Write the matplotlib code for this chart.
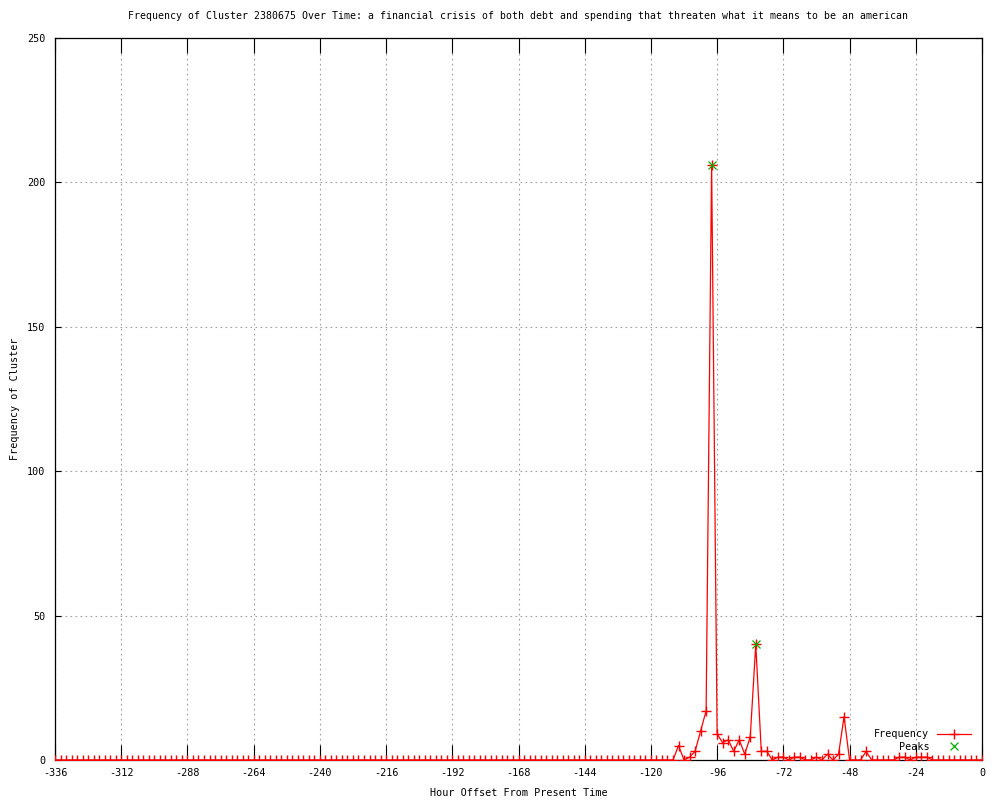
import numpy as np
import matplotlib
matplotlib.use('Agg')
import matplotlib.pyplot as plt

plt.rcParams['font.family'] = ['DejaVu Sans Mono']
plt.rcParams['axes.unicode_minus'] = False

# hour offsets, one sample every 2 hours
hours = list(range(-336, 1, 2))

# frequency per hour offset (-336 .. -118 are all zero)
freq = [0] * 110 + [
    0, 0, 0, 5, 0, 1, 3, 10, 17,      # -116 .. -100
    206, 9, 6, 7, 3, 7, 2, 8, 40,     # -98 .. -82
    3, 3, 0, 1, 1, 0, 1, 1, 0,        # -80 .. -64
    0, 1, 0, 2, 0, 2, 15, 0, 0,       # -62 .. -46
    0, 3, 0, 0, 0, 0, 0, 1, 1,        # -44 .. -28
    0, 1, 1, 1, 0, 0, 0, 0, 0,        # -26 .. -10
    0, 0, 0, 0, 0,                    # -8 .. 0
]

peak_hours = [-98, -82]
peak_vals = [206, 40]

x_ticks = list(range(-336, 1, 24))
y_ticks = [0, 50, 100, 150, 200, 250]

title = ('Frequency of Cluster 2380675 Over Time: a financial crisis of both debt '
         'and spending that threaten what it means to be an american')

fs = 7.3
fig = plt.figure(figsize=(10, 8), dpi=100)
ax = fig.add_axes([0.055, 0.05, 0.927, 0.9025])

ax.plot(hours, freq, color='red', lw=0.9, marker='+', ms=7, mew=1.0,
        label='Frequency', zorder=3)
ax.plot(peak_hours, peak_vals, ls='none', marker='x', color='#00b000', ms=5.5,
        mew=0.9, label='Peaks', zorder=4)

ax.set_xlim(-336, 0)
ax.set_ylim(0, 250)
ax.set_xticks(x_ticks)
ax.set_yticks(y_ticks)
ax.tick_params(axis='x', direction='in', length=11, width=0.8, top=True,
               labelsize=fs, pad=6)
ax.tick_params(axis='y', direction='in', length=4, width=0.8, right=True,
               labelsize=fs, pad=7)
for s in ax.spines.values():
    s.set_linewidth(0.9)

ax.grid(True, color='#a0a0a0', linestyle=(0, (1.5, 3)), lw=0.8)
ax.set_axisbelow(True)

ax.set_title(title, fontsize=7.1, pad=14)
ax.set_xlabel('Hour Offset From Present Time', fontsize=fs, labelpad=7)
ax.set_ylabel('Frequency of Cluster', fontsize=fs, labelpad=5)

ax.legend(loc='lower right', bbox_to_anchor=(0.998, -0.001), frameon=False,
          markerfirst=False, fontsize=fs, handlelength=3.4, handletextpad=0.7,
          labelspacing=0.25)

fig.savefig('out.png', dpi=100)
